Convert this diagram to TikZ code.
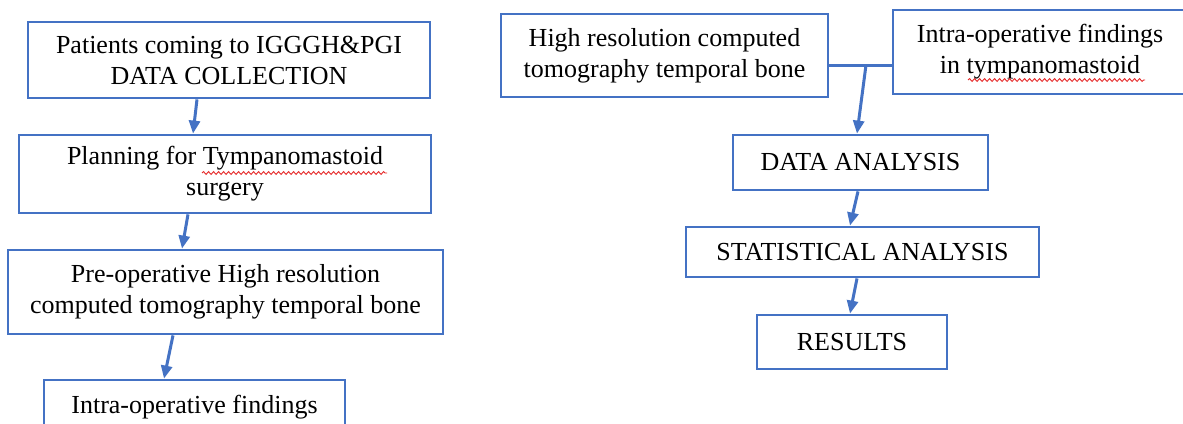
\documentclass[tikz,border=0pt]{standalone}
\usepackage{fontspec}
\setmainfont{Liberation Serif}
\usepackage{tikz}
\usetikzlibrary{arrows.meta,decorations.pathmorphing}
\definecolor{wordblue}{RGB}{68,114,196}
\definecolor{spellred}{RGB}{230,40,40}
\tikzset{
  stepbox/.style={draw=wordblue, line width=2.8pt, fill=white, align=center,
    inner sep=3pt, font=\fontsize{26}{31}\selectfont},
  arr/.style={draw=wordblue, line width=3pt,
    -{Triangle[length=13pt,width=11pt]}},
  squiggle/.style={draw=spellred, line width=0.9pt,
    decorate, decoration={snake, amplitude=1.4pt, segment length=5pt}}
}

\begin{document}
\begin{tikzpicture}[x=1pt,y=1pt,yscale=-1,xscale=1]
\clip (0,0) rectangle (1183,423);
\fill[white] (0,0) rectangle (1183,423);

% Left column
\node[stepbox, minimum width=402pt, minimum height=76pt] (patients) at (229,60)
  {Patients coming to IGGGH\&PGI\\DATA COLLECTION};
\node[stepbox, minimum width=412pt, minimum height=78pt] (planning) at (225,174)
  {Planning for Tympanomastoid\\surgery};
\node[stepbox, minimum width=435pt, minimum height=84pt] (preop) at (225.5,292)
  {Pre-operative High resolution\\computed tomography temporal bone};
\node[stepbox, minimum width=301pt, minimum height=54pt] (intraop) at (194.5,407)
  {Intra-operative findings};

% Right column
\node[stepbox, minimum width=327pt, minimum height=83pt] (hrct) at (664.5,55.5)
  {High resolution computed\\tomography temporal bone};
\node[stepbox, minimum width=294pt, minimum height=84pt] (findings) at (1040,52)
  {Intra-operative findings\\in tympanomastoid};
\node[stepbox, minimum width=255pt, minimum height=55pt] (data) at (860.5,162.5)
  {DATA ANALYSIS};
\node[stepbox, minimum width=353pt, minimum height=50pt] (stats) at (862.5,252)
  {STATISTICAL ANALYSIS};
\node[stepbox, minimum width=190pt, minimum height=54pt] (results) at (852,342)
  {RESULTS};

% spell check underlines
\draw[squiggle] (202,173) -- (387,173);
\draw[squiggle] (968,80) -- (1145,80);

% Connectors, left
\draw[arr] ([xshift=-32pt]patients.south) -- ([xshift=-32pt]planning.north);
\draw[arr] ([xshift=-37pt]planning.south) -- ([xshift=-43.5pt]preop.north);
\draw[arr] ([xshift=-52.5pt]preop.south) -- ([xshift=-30.5pt]intraop.north);

% Connectors, right
\coordinate (join) at (866,65);
\draw[draw=wordblue, line width=3pt] (hrct.east |- join) -- (findings.west |- join);
\draw[arr] (join) -- ([xshift=-3.5pt]data.north);
\draw[arr] ([xshift=-2.5pt]data.south) -- ([xshift=-12.5pt]stats.north);
\draw[arr] ([xshift=-5.5pt]stats.south) -- ([xshift=-2pt]results.north);

\end{tikzpicture}
\end{document}
